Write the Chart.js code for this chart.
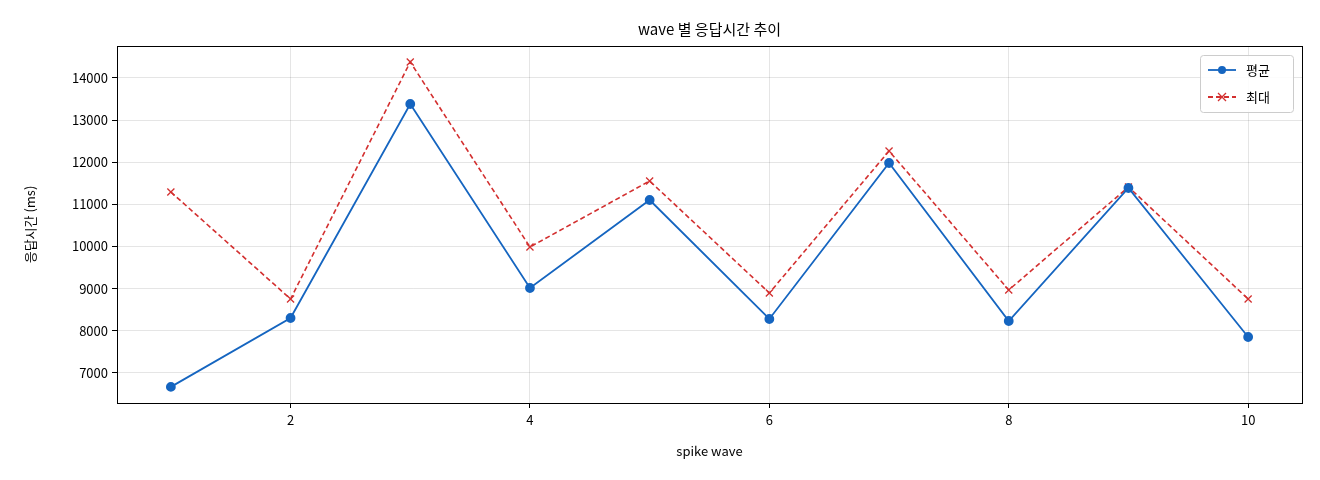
<!DOCTYPE html>
<html><head><meta charset="utf-8">
<script src="https://cdn.jsdelivr.net/npm/chart.js@4"></script>
<style>html,body{margin:0;padding:0;background:#fff}#w{width:1320px;height:480px}</style>
</head><body><div id="w"><canvas id="c"></canvas></div>
<script>
const waves=[1,2,3,4,5,6,7,8,9,10];
const avgVals=[6670,8305,13383,9017,11105,8281,11983,8234,11390,7854];
const maxVals=[11295,8756,14380,9990,11556,8898,12268,8970,11414,8756];
const yTicks=[7000,8000,9000,10000,11000,12000,13000,14000];
const xTicks=[2,4,6,8,10];
const F="'Noto Sans CJK KR','DejaVu Sans',sans-serif";
const deco={id:'deco',afterDraw(ch){const c=ch.ctx,a=ch.chartArea;c.save();
c.strokeStyle='#000';c.lineWidth=1;c.strokeRect(a.left+.5,a.top+.5,a.right-a.left,a.bottom-a.top);
c.fillStyle='#000';c.font='15px '+F;c.textAlign='center';c.textBaseline='middle';c.fillText('wave 별 응답시간 추이',(a.left+a.right)/2,29);
c.font='13px '+F;c.fillText('spike wave',(a.left+a.right)/2,451);
c.save();c.translate(30,(a.top+a.bottom)/2);c.rotate(-Math.PI/2);c.fillText('응답시간 (ms)',0,0);c.restore();
const lx=a.right-102,ly=a.top+9;c.strokeStyle='#ccc';c.fillStyle='rgba(255,255,255,0.85)';
c.beginPath();c.roundRect(lx+.5,ly+.5,93,57,3);c.fill();c.stroke();
c.lineWidth=1.8;c.strokeStyle='#1565c0';c.beginPath();c.moveTo(lx+8,ly+15);c.lineTo(lx+36,ly+15);c.stroke();
c.fillStyle='#1565c0';c.beginPath();c.arc(lx+22,ly+15,4,0,7);c.fill();
c.strokeStyle='#d32f2f';c.setLineDash([5,3]);c.beginPath();c.moveTo(lx+8,ly+42);c.lineTo(lx+36,ly+42);c.stroke();c.setLineDash([]);
c.lineWidth=1.3;c.beginPath();c.moveTo(lx+18,ly+38);c.lineTo(lx+26,ly+46);c.moveTo(lx+26,ly+38);c.lineTo(lx+18,ly+46);c.stroke();
c.fillStyle='#000';c.font='13px '+F;c.textAlign='left';c.fillText('평균',lx+46,ly+15);c.fillText('최대',lx+46,ly+42);
c.restore();}};
new Chart(document.getElementById('c'),{type:'line',
data:{datasets:[
{label:'평균',data:waves.map((x,i)=>({x,y:avgVals[i]})),borderColor:'#1565c0',backgroundColor:'#1565c0',borderWidth:1.8,pointRadius:4,pointHoverRadius:4,tension:0},
{label:'최대',data:waves.map((x,i)=>({x,y:maxVals[i]})),borderColor:'#d32f2f',backgroundColor:'#d32f2f',borderWidth:1.6,borderDash:[5,3],pointStyle:'crossRot',pointRadius:5,pointBorderWidth:1.3,tension:0}
]},
options:{responsive:true,maintainAspectRatio:false,animation:false,devicePixelRatio:1,
layout:{padding:{top:46,right:18,left:0,bottom:0}},
plugins:{legend:{display:false},tooltip:{enabled:false}},
scales:{
x:{type:'linear',min:0.55,max:10.45,afterBuildTicks(s){s.ticks=xTicks.map(v=>({value:v}));},afterFit(s){s.height=77;},
grid:{color:'rgba(0,0,0,0.1)',tickColor:'#000',tickLength:5},border:{display:false},
ticks:{color:'#000',font:{family:F,size:13},padding:4,callback:v=>String(v)}},
y:{min:6288,max:14759,afterBuildTicks(s){s.ticks=yTicks.map(v=>({value:v}));},afterFit(s){s.width=117;},
grid:{color:'rgba(0,0,0,0.1)',tickColor:'#000',tickLength:5},border:{display:false},
ticks:{color:'#000',font:{family:F,size:13},padding:4,callback:v=>String(v)}}}},
plugins:[deco]});
</script></body></html>
